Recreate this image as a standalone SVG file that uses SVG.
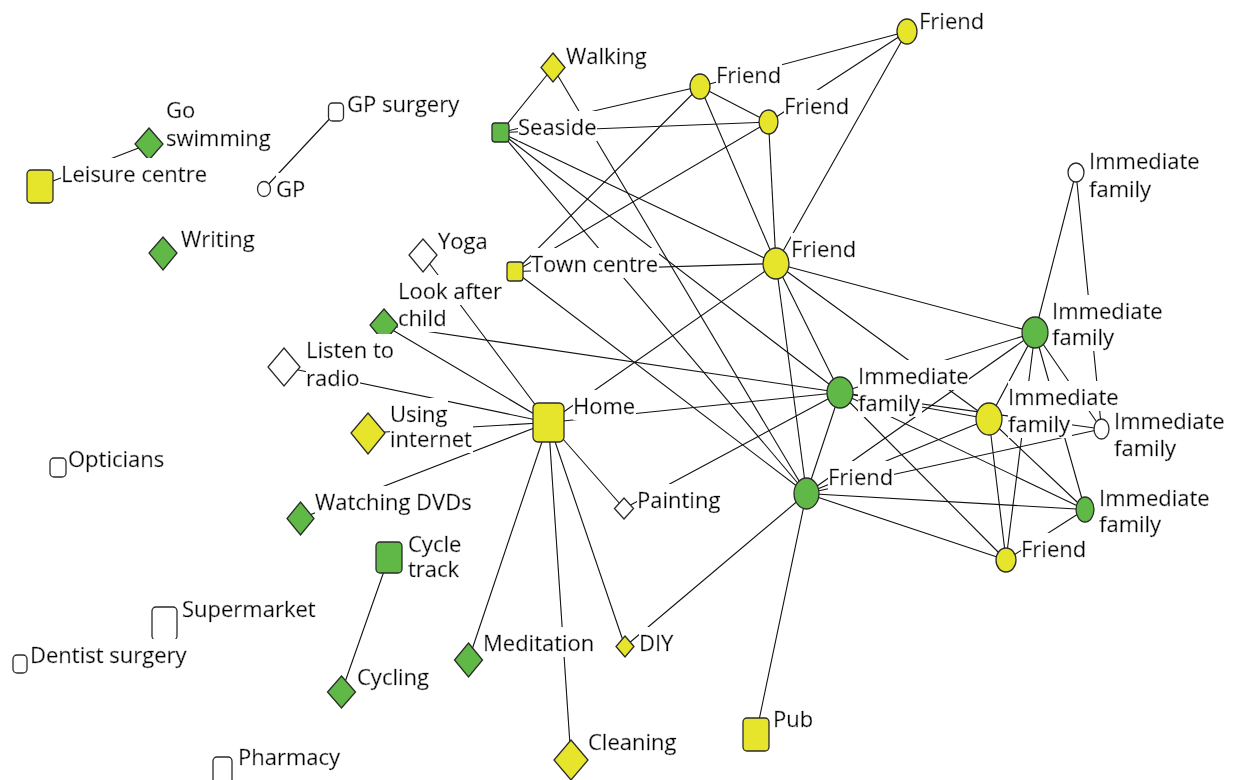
<svg xmlns="http://www.w3.org/2000/svg" width="1238" height="780" viewBox="0 0 1238 780">
<defs>
<filter id="bg" x="0" y="0" width="1" height="1">
<feFlood flood-color="#ffffff"/>
<feComposite in="SourceGraphic" operator="over"/>
</filter>
</defs>
<style>
.e line{stroke:#111;stroke-width:1.1;fill:none}
.n{stroke:#2b2b2b;stroke-width:1.3}
.g{fill:#60b946}
.y{fill:#e6e52b}
.w{fill:#ffffff}
text{font-family:"Open Sans","Noto Sans","DejaVu Sans",sans-serif;font-size:22px;fill:#000;stroke:#000;stroke-width:0.4;filter:url(#bg)}
</style>
<rect width="1238" height="780" fill="#ffffff"/>
<g id="connectors" class="e">
<line x1="149" y1="144" x2="40" y2="186"/>
<line x1="336" y1="112" x2="264" y2="189"/>
<line x1="389" y1="557" x2="341.5" y2="692"/>
<line x1="553" y1="67.5" x2="500.5" y2="132.5"/>
<line x1="553" y1="67.5" x2="806.5" y2="493.5"/>
<line x1="500.5" y1="132.5" x2="700" y2="86.5"/>
<line x1="500.5" y1="132.5" x2="768.5" y2="122"/>
<line x1="500.5" y1="132.5" x2="776" y2="263.5"/>
<line x1="500.5" y1="132.5" x2="840" y2="392.5"/>
<line x1="500.5" y1="132.5" x2="806.5" y2="493.5"/>
<line x1="700" y1="86.5" x2="907" y2="31.5"/>
<line x1="768.5" y1="122" x2="907" y2="31.5"/>
<line x1="907" y1="31.5" x2="776" y2="263.5"/>
<line x1="700" y1="86.5" x2="768.5" y2="122"/>
<line x1="700" y1="86.5" x2="776" y2="263.5"/>
<line x1="768.5" y1="122" x2="776" y2="263.5"/>
<line x1="700" y1="86.5" x2="515" y2="271.5"/>
<line x1="768.5" y1="122" x2="515" y2="271.5"/>
<line x1="515" y1="271.5" x2="776" y2="263.5"/>
<line x1="515" y1="271.5" x2="806.5" y2="493.5"/>
<line x1="776" y1="263.5" x2="1035" y2="332.5"/>
<line x1="776" y1="263.5" x2="840" y2="392.5"/>
<line x1="776" y1="263.5" x2="989" y2="419"/>
<line x1="776" y1="263.5" x2="806.5" y2="493.5"/>
<line x1="776" y1="263.5" x2="548.5" y2="422.5"/>
<line x1="548.5" y1="422.5" x2="423" y2="255"/>
<line x1="548.5" y1="422.5" x2="384" y2="325"/>
<line x1="548.5" y1="422.5" x2="284" y2="367"/>
<line x1="548.5" y1="422.5" x2="368" y2="433"/>
<line x1="548.5" y1="422.5" x2="300.5" y2="518.5"/>
<line x1="548.5" y1="422.5" x2="468.5" y2="660"/>
<line x1="548.5" y1="422.5" x2="571" y2="760"/>
<line x1="548.5" y1="422.5" x2="625" y2="646.5"/>
<line x1="548.5" y1="422.5" x2="624" y2="508.5"/>
<line x1="548.5" y1="422.5" x2="840" y2="392.5"/>
<line x1="384" y1="325" x2="840" y2="392.5"/>
<line x1="624" y1="508.5" x2="840" y2="392.5"/>
<line x1="625" y1="646.5" x2="806.5" y2="493.5"/>
<line x1="756" y1="734.5" x2="806.5" y2="493.5"/>
<line x1="840" y1="392.5" x2="806.5" y2="493.5"/>
<line x1="806.5" y1="493.5" x2="1085" y2="509.5"/>
<line x1="806.5" y1="493.5" x2="1006" y2="560"/>
<line x1="806.5" y1="493.5" x2="1035" y2="332.5"/>
<line x1="806.5" y1="493.5" x2="1101.5" y2="429"/>
<line x1="806.5" y1="493.5" x2="989" y2="419"/>
<line x1="840" y1="392.5" x2="989" y2="419"/>
<line x1="840" y1="392.5" x2="1101.5" y2="429"/>
<line x1="840" y1="392.5" x2="1085" y2="509.5"/>
<line x1="840" y1="392.5" x2="1006" y2="560"/>
<line x1="1035" y1="332.5" x2="840" y2="392.5"/>
<line x1="1035" y1="332.5" x2="989" y2="419"/>
<line x1="1035" y1="332.5" x2="1006" y2="560"/>
<line x1="1035" y1="332.5" x2="1085" y2="509.5"/>
<line x1="1035" y1="332.5" x2="1101.5" y2="429"/>
<line x1="1035" y1="332.5" x2="1076" y2="172.5"/>
<line x1="1076" y1="172.5" x2="1101.5" y2="429"/>
<line x1="989" y1="419" x2="1006" y2="560"/>
<line x1="989" y1="419" x2="1085" y2="509.5"/>
<line x1="1085" y1="509.5" x2="1006" y2="560"/>
</g>
<g id="node-go-swimming"><polygon class="n g" points="149,128 163,144 149,160 135,144"/><text x="166" y="146">swimming</text><text x="166" y="118">Go</text></g>
<g id="node-leisure-centre"><rect class="n y" x="27" y="170" width="26" height="33" rx="4"/><text x="61" y="182">Leisure centre</text></g>
<g id="node-gp-surgery"><rect class="n w" x="328.5" y="103" width="15" height="18" rx="4"/><text x="347" y="112">GP surgery</text></g>
<g id="node-gp"><ellipse class="n w" cx="264" cy="189" rx="6.5" ry="7.5"/><text x="276" y="197">GP</text></g>
<g id="node-writing"><polygon class="n g" points="163,237 177,253 163,270 149,253"/><text x="181" y="247">Writing</text></g>
<g id="node-yoga"><polygon class="n w" points="423,239 437,255 423,272 409,255"/><text x="438" y="249">Yoga</text></g>
<g id="node-look-after-child"><polygon class="n g" points="384,309 398,325 384,342 370,325"/><text x="398" y="326">child</text><text x="398" y="299">Look after</text></g>
<g id="node-listen-to-radio"><polygon class="n w" points="284,348 300,367 284,386 268,367"/><text x="306" y="386">radio</text><text x="306" y="358">Listen to</text></g>
<g id="node-using-internet"><polygon class="n y" points="368,413 385,433 368,454 351,433"/><text x="390" y="447">internet</text><text x="390" y="422">Using</text></g>
<g id="node-opticians"><rect class="n w" x="50" y="458" width="16" height="19" rx="4"/><text x="68" y="467">Opticians</text></g>
<g id="node-watching-dvds"><polygon class="n g" points="300.5,502 314,518.5 300.5,535 287,518.5"/><text x="315" y="510">Watching DVDs</text></g>
<g id="node-cycle-track"><rect class="n g" x="376" y="542" width="26" height="31" rx="4"/><text x="408" y="577">track</text><text x="408" y="552">Cycle</text></g>
<g id="node-supermarket"><rect class="n w" x="152" y="607" width="25" height="33" rx="4"/><text x="182" y="617">Supermarket</text></g>
<g id="node-dentist-surgery"><rect class="n w" x="13" y="655" width="14" height="18" rx="4"/><text x="30" y="663">Dentist surgery</text></g>
<g id="node-cycling"><polygon class="n g" points="341.5,676 355.5,692 341.5,708 327.5,692"/><text x="357" y="685">Cycling</text></g>
<g id="node-meditation"><polygon class="n g" points="468.5,643 482.5,660 468.5,677 454.5,660"/><text x="483" y="651">Meditation</text></g>
<g id="node-diy"><polygon class="n y" points="625,636 634,646.5 625,657 616,646.5"/><text x="639" y="651">DIY</text></g>
<g id="node-cleaning"><polygon class="n y" points="571,740 588,760 571,780 554,760"/><text x="588" y="750">Cleaning</text></g>
<g id="node-pharmacy"><rect class="n w" x="213" y="757" width="19" height="32" rx="4"/><text x="238" y="765">Pharmacy</text></g>
<g id="node-home"><rect class="n y" x="533" y="403" width="31" height="39" rx="5"/><text x="573" y="414">Home</text></g>
<g id="node-painting"><polygon class="n w" points="624,498 633.5,508.5 624,519 614.5,508.5"/><text x="637" y="508">Painting</text></g>
<g id="node-pub"><rect class="n y" x="743" y="718" width="26" height="33" rx="4"/><text x="773" y="727">Pub</text></g>
<g id="node-walking"><polygon class="n y" points="553,53 565,67.5 553,82 541,67.5"/><text x="566" y="64">Walking</text></g>
<g id="node-seaside"><rect class="n g" x="492" y="123" width="17" height="19" rx="3"/><text x="518" y="135">Seaside</text></g>
<g id="node-town-centre"><rect class="n y" x="507" y="262" width="16" height="19" rx="3"/><text x="531" y="272">Town centre</text></g>
<g id="node-friend-a"><ellipse class="n y" cx="907" cy="31.5" rx="10" ry="12.5"/><text x="919" y="29">Friend</text></g>
<g id="node-friend-b"><ellipse class="n y" cx="700" cy="86.5" rx="10" ry="12.5"/><text x="716" y="83">Friend</text></g>
<g id="node-friend-c"><ellipse class="n y" cx="768.5" cy="122" rx="9.5" ry="12"/><text x="784" y="114">Friend</text></g>
<g id="node-friend-d"><ellipse class="n y" cx="776" cy="263.5" rx="13" ry="15.5"/><text x="791" y="257">Friend</text></g>
<g id="node-family-l"><ellipse class="n w" cx="1076" cy="172.5" rx="8" ry="9.5"/><text x="1089" y="197">family</text><text x="1089" y="169">Immediate</text></g>
<g id="node-family-e"><ellipse class="n g" cx="1035" cy="332.5" rx="13" ry="15.5"/><text x="1052" y="345">family</text><text x="1052" y="319">Immediate</text></g>
<g id="node-family-f"><ellipse class="n g" cx="840" cy="392.5" rx="13" ry="15.5"/><text x="858" y="411">family</text><text x="858" y="384">Immediate</text></g>
<g id="node-family-g"><ellipse class="n y" cx="989" cy="419" rx="13" ry="16"/><text x="1008" y="432">family</text><text x="1008" y="405">Immediate</text></g>
<g id="node-family-h"><ellipse class="n w" cx="1101.5" cy="429" rx="7.5" ry="10"/><text x="1114" y="456">family</text><text x="1114" y="429">Immediate</text></g>
<g id="node-friend-i"><ellipse class="n g" cx="806.5" cy="493.5" rx="12.5" ry="15.5"/><text x="828" y="485">Friend</text></g>
<g id="node-family-j"><ellipse class="n g" cx="1085" cy="509.5" rx="9" ry="12.5"/><text x="1099" y="532">family</text><text x="1099" y="506">Immediate</text></g>
<g id="node-friend-k"><ellipse class="n y" cx="1006" cy="560" rx="10" ry="12"/><text x="1021" y="557">Friend</text></g>
</svg>
